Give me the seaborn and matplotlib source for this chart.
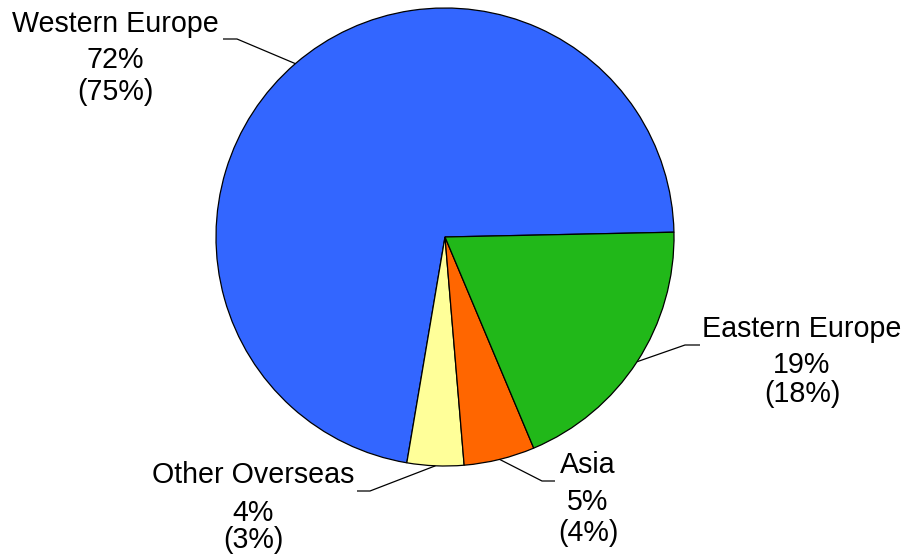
import numpy as np
import matplotlib
matplotlib.use("Agg")
import matplotlib.pyplot as plt
import seaborn as sns

# Regional share of sales, current year and (previous year)
regions = ["Western Europe", "Other Overseas", "Asia", "Eastern Europe"]
share_now = [72, 4, 5, 19]
share_prev = [75, 3, 4, 18]
colors = ["#3366FF", "#FFFF99", "#FF6600", "#21B819"]

sns.set_theme(style="white")
plt.rcParams["font.family"] = ["Liberation Sans", "DejaVu Sans"]

W, H = 908, 554
fig = plt.figure(figsize=(W / 100, H / 100), dpi=100)
ax = fig.add_axes([0, 0, 1, 1])

cx, cy, r = 445, H - 237, 229
wedges, _ = ax.pie(share_now, colors=colors, startangle=1.2, counterclock=True,
                   center=(cx, cy), radius=r,
                   wedgeprops=dict(edgecolor="black", linewidth=0.9))
ax.set_xlim(0, W)
ax.set_ylim(0, H)
ax.set_aspect("equal")
ax.axis("off")

# label layout: text centre x, baselines of the three lines, leader elbow and end
layout = {
    "Western Europe": dict(x=115, ys=[32, 68, 100], elbow=(237, 39), end=(223, 39)),
    "Eastern Europe": dict(x=802, ys=[337, 373, 402], elbow=(685, 345), end=(700, 345)),
    "Asia": dict(x=588, ys=[473, 510, 541], elbow=(542, 481), end=(555, 481)),
    "Other Overseas": dict(x=253, ys=[483, 521, 548], elbow=(370, 491), end=(357, 491)),
}

fs = 20.6
for w, name, now, prev in zip(wedges, regions, share_now, share_prev):
    lay = layout[name]
    mid = np.deg2rad((w.theta1 + w.theta2) / 2)
    ex, ey = cx + r * np.cos(mid), cy + r * np.sin(mid)
    bx, by = lay["elbow"]
    tx, ty = lay["end"]
    ax.plot([ex, bx, tx], [ey, H - by, H - ty], color="black", lw=0.9,
            solid_capstyle="butt")
    for line, yb in zip([name, f"{now}%", f"({prev}%)"], lay["ys"]):
        ax.text(lay["x"], H - yb, line, ha="center", va="baseline",
                fontsize=fs, color="black")

fig.savefig("out.png", dpi=100, facecolor="white")
